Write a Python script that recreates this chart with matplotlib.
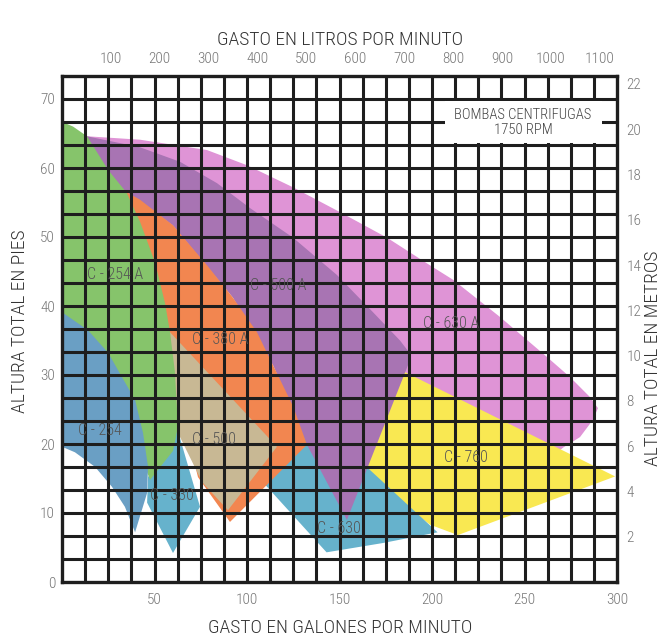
import numpy as np
import matplotlib.pyplot as plt
from matplotlib import font_manager
from matplotlib.patches import Polygon, Rectangle

# pick a narrow face if one is installed
installed = {f.name for f in font_manager.fontManager.ttflist}
narrow = [n for n in ['Liberation Sans Narrow', 'Roboto Condensed', 'Open Sans Condensed',
                      'Noto Sans Condensed', 'DejaVu Sans Condensed', 'Roboto']
          if n in installed]
font_name = narrow[0] if narrow else 'DejaVu Sans'
stretches = {f.stretch for f in font_manager.fontManager.ttflist if f.name == font_name}
light = any(f.weight in (300, 'light') for f in font_manager.fontManager.ttflist if f.name == font_name)
plt.rcParams['font.family'] = [font_name, 'DejaVu Sans']
if 'condensed' in stretches:
    plt.rcParams['font.stretch'] = 'condensed'
text_weight = 'light' if light else 'normal'

# unit conversions for the secondary axes
GPM_TO_LPM = 3.785
FT_TO_M = 0.3048

gpm_ticks = [50, 100, 150, 200, 250, 300]
lpm_ticks = [100, 200, 300, 400, 500, 600, 700, 800, 900, 1000, 1100]
ft_ticks = [0, 10, 20, 30, 40, 50, 60, 70]
m_ticks = [2, 4, 6, 8, 10, 12, 14, 16, 18, 20, 22]

# pump coverage outlines: flow (gpm) / head (ft)
c630a_q = [13.5, 42.2, 78.4, 100.0, 124.9, 150.3, 175.7, 198.9, 211.4, 236.8, 262.2, 274.6,
           285.4, 289.7, 287.0, 280.0, 271.0, 264.0, 200.0, 170.0, 140.0, 60.0, 15.0]
c630a_h = [64.6, 64.1, 62.6, 60.4, 57.2, 53.6, 49.9, 45.9, 43.8, 38.4, 32.6, 29.7,
           26.8, 25.2, 23.5, 21.0, 19.5, 18.0, 25.0, 25.0, 30.0, 50.0, 63.0]

c760_q = [175.0, 299.0, 214.0, 199.0, 166.0, 163.0]
c760_h = [31.8, 15.3, 6.8, 8.3, 15.0, 21.0]

c630_q = [100.0, 143.0, 173.5, 203.0, 165.4, 150.0, 128.0]
c630_h = [17.0, 4.3, 5.65, 7.2, 16.5, 25.0, 22.0]

c500a_q = [13.5, 42.2, 63.8, 83.8, 101.6, 124.9, 148.6, 168.1, 182.7, 187.0, 188.3,
           154.0, 132.4, 114.3, 92.4, 60.0, 35.0, 15.0]
c500a_h = [64.6, 63.0, 60.9, 57.8, 54.2, 49.9, 44.5, 39.1, 35.0, 33.5, 32.3,
           9.0, 19.9, 31.3, 41.2, 51.7, 56.5, 60.0]

c380a_q = [35.0, 42.2, 60.0, 78.4, 92.4, 105.4, 114.3, 125.0, 132.4, 90.8, 73.5, 70.0, 55.0, 40.0, 30.0]
c380a_h = [56.5, 55.4, 51.7, 45.9, 41.2, 36.2, 31.3, 25.4, 19.9, 8.7, 15.2, 19.0, 35.0, 50.0, 56.0]

c500_q = [58.4, 116.2, 89.7, 75.7, 62.7, 59.0]
c500_h = [36.2, 19.6, 10.4, 14.5, 21.6, 28.0]

c330_q = [62.2, 46.5, 46.0, 60.0, 74.6]
c330_h = [22.3, 15.2, 11.5, 4.2, 10.9]

c254a_q = [0.0, 6.0, 13.5, 25.0, 35.0, 42.2, 50.3, 55.7, 58.4, 61.0, 62.7, 60.0, 47.6, 40.0, 0.0]
c254a_h = [66.7, 66.0, 64.6, 59.7, 56.4, 52.2, 46.3, 40.4, 36.2, 30.5, 22.5, 19.0, 14.8, 20.0, 38.0]

c254_q = [0.0, 14.0, 25.0, 32.4, 39.5, 43.8, 46.5, 46.0, 39.5, 34.0, 27.0, 17.8, 7.0, 0.0]
c254_h = [39.1, 36.5, 33.2, 29.7, 26.4, 21.6, 16.7, 12.9, 7.2, 10.9, 13.8, 16.7, 18.8, 19.6]

# drawing order, bottom to top
regions = [
    (c630a_q, c630a_h, '#df94d6'),
    (c760_q, c760_h, '#f9e852'),
    (c630_q, c630_h, '#66b2cc'),
    (c500a_q, c500a_h, '#a874b3'),
    (c380a_q, c380a_h, '#f28650'),
    (c500_q, c500_h, '#c8b894'),
    (c330_q, c330_h, '#66b2cc'),
    (c254a_q, c254a_h, '#86c46b'),
    (c254_q, c254_h, '#6a9fc4'),
]

labels = ['C - 254 A', 'C - 500 A', 'C - 380 A', 'C - 630 A', 'C - 254',
          'C - 500', 'C - 330', 'C - 630', 'C - 760']
label_q = [13.5, 101.6, 70.3, 195.1, 8.6, 70.3, 47.6, 137.8, 206.5]
label_h = [44.5, 42.9, 35.1, 37.4, 21.9, 20.7, 12.5, 7.7, 18.0]

fig = plt.figure(figsize=(6.65, 6.43), dpi=100)
ax = fig.add_axes([62 / 665, 61 / 643, 555 / 665, 506 / 643])

for q, h, col in regions:
    ax.add_patch(Polygon(np.column_stack([q, h]), closed=True, facecolor=col,
                         edgecolor='none', zorder=1))

ax.set_xlim(0, 300)
ax.set_ylim(0, 220 / 3)

# square grid: 12.5 gpm by 10/3 ft
for gx in np.arange(12.5, 300, 12.5):
    ax.axvline(gx, color='#1e1e1e', linewidth=2.2, zorder=3)
for gy in np.arange(1, 22) * 10 / 3:
    ax.axhline(gy, color='#1e1e1e', linewidth=2.2, zorder=3)

ax.set_xticks(gpm_ticks)
ax.set_yticks(ft_ticks)
ax.tick_params(length=0)
ax.tick_params(axis='x', pad=8, labelsize=11, labelcolor='#777777')
ax.tick_params(axis='y', pad=5, labelsize=11, labelcolor='#777777')
for s in ax.spines.values():
    s.set_color('#1e1e1e')
    s.set_linewidth(2.4)
    s.set_zorder(4)

top = ax.secondary_xaxis('top', functions=(lambda x: x * GPM_TO_LPM, lambda x: x / GPM_TO_LPM))
top.set_xticks(lpm_ticks)
top.tick_params(length=0, pad=7, labelsize=11, labelcolor='#777777')
top.spines['top'].set_visible(False)

right = ax.secondary_yaxis('right', functions=(lambda y: y * FT_TO_M, lambda y: y / FT_TO_M))
right.set_yticks(m_ticks)
right.tick_params(length=0, pad=7, labelsize=11, labelcolor='#777777')
right.spines['right'].set_visible(False)

for lab in ax.get_xticklabels() + ax.get_yticklabels() + top.get_xticklabels() + right.get_yticklabels():
    lab.set_fontweight(text_weight)

for txt, q, h in zip(labels, label_q, label_h):
    ax.text(q, h, txt, ha='left', va='center', fontsize=11.5, color='#555555',
            fontweight=text_weight, zorder=6)

ax.add_patch(Rectangle((207, 63.6), 85, 6.15, facecolor='white', edgecolor='none', zorder=5))
ax.text(249.2, 66.6, 'BOMBAS CENTRIFUGAS\n1750 RPM', ha='center', va='center',
        fontsize=10.5, color='#444444', linespacing=1.15, fontweight=text_weight, zorder=6)

axis_titles = [
    (340, 40, 'GASTO EN LITROS POR MINUTO', 0),
    (340, 628, 'GASTO EN GALONES POR MINUTO', 0),
    (20, 321, 'ALTURA TOTAL EN PIES', 90),
    (653, 358, 'ALTURA TOTAL EN METROS', 90),
]
for px, py, txt, rot in axis_titles:
    fig.text(px / 665, 1 - py / 643, txt, ha='center', va='center', rotation=rot,
             fontsize=14, color='#333333', fontweight=text_weight)

fig.savefig('out.png', dpi=100, facecolor='white')
